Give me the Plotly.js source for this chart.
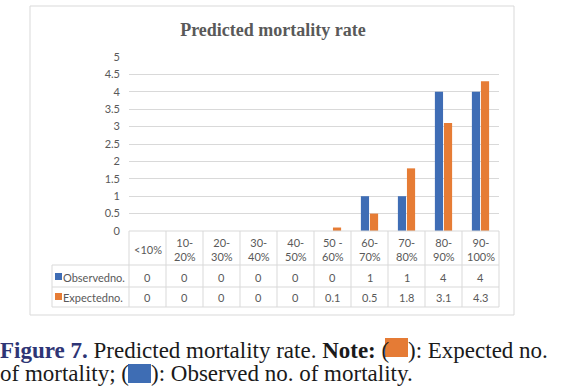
<!DOCTYPE html>
<html>
<head>
<meta charset="utf-8">
<script src="https://cdn.plot.ly/plotly-3.0.1.min.js"></script>
<style>html,body{margin:0;padding:0;background:#fff;}#chart{width:569px;height:391px;}</style>
</head>
<body>
<div id="chart"></div>
<script>
// ---- data ----
const categories = ['<10%', '10-20%', '20-30%', '30-40%', '40-50%', '50 -60%', '60-70%', '70-80%', '80-90%', '90-100%'];
const headerLabels = ['<10%', '10-<br>20%', '20-<br>30%', '30-<br>40%', '40-<br>50%', '50 -<br>60%', '60-<br>70%', '70-<br>80%', '80-<br>90%', '90-<br>100%'];
const observed = [0, 0, 0, 0, 0, 0, 1, 1, 4, 4];
const expected = [0, 0, 0, 0, 0, 0.1, 0.5, 1.8, 3.1, 4.3];
const seriesNames = ['Observedno.', 'Expectedno.'];
const yTicks = [0, 0.5, 1, 1.5, 2, 2.5, 3, 3.5, 4, 4.5, 5];

// ---- styling ----
const BLUE = '#3f6db5';
const ORANGE = '#e67c35';
const GRID = '#d9d9d9';
const TXT = '#595959';
const FONT = 'Lato, "Open Sans", sans-serif';

// pixel -> paper helpers (plot area: x 129..499, y 57..231)
const L = 129, R = 70, T = 57, B = 160, W = 569, H = 391;
const PW = W - L - R, PH = H - T - B;
const X = px => (px - L) / PW;
const Y = py => (H - B - py) / PH;

const traces = [
  {type: 'bar', x: categories, y: observed, name: seriesNames[0], marker: {color: BLUE}, hoverinfo: 'none'},
  {type: 'bar', x: categories, y: expected, name: seriesNames[1], marker: {color: ORANGE}, hoverinfo: 'none'}
];

const shapes = [];
const annotations = [];
const line = {color: GRID, width: 1};

// outer frame
shapes.push({type: 'rect', xref: 'paper', yref: 'paper', x0: X(30), x1: X(514), y0: Y(6), y1: Y(315), line: line, fillcolor: 'rgba(0,0,0,0)', layer: 'below'});
// table top line (axis line)
shapes.push({type: 'line', xref: 'paper', yref: 'paper', x0: 0, x1: 1, y0: 0, y1: 0, line: line});
// table horizontal lines
[265, 287, 307].forEach(py => {
  shapes.push({type: 'line', xref: 'paper', yref: 'paper', x0: X(52), x1: 1, y0: Y(py), y1: Y(py), line: line});
});
// legend column left line
shapes.push({type: 'line', xref: 'paper', yref: 'paper', x0: X(52), x1: X(52), y0: Y(265), y1: Y(307), line: line});
// vertical category boundaries
for (let i = 0; i <= categories.length; i++) {
  const xp = i / categories.length;
  shapes.push({type: 'line', xref: 'paper', yref: 'paper', x0: xp, x1: xp, y0: 0, y1: Y(307), line: line});
}
// legend keys
shapes.push({type: 'rect', xref: 'paper', yref: 'paper', x0: X(55), x1: X(62), y0: Y(273), y1: Y(280), line: {width: 0}, fillcolor: BLUE});
shapes.push({type: 'rect', xref: 'paper', yref: 'paper', x0: X(55), x1: X(62), y0: Y(293), y1: Y(300), line: {width: 0}, fillcolor: ORANGE});

const cellFont = {family: FONT, size: 11, color: TXT};
categories.forEach((c, i) => {
  annotations.push({xref: 'x', yref: 'paper', x: c, y: Y(249.5), text: headerLabels[i], showarrow: false, font: cellFont, xanchor: 'center', yanchor: 'middle'});
  annotations.push({xref: 'x', yref: 'paper', x: c, y: Y(277), text: String(observed[i]), showarrow: false, font: cellFont, xanchor: 'center', yanchor: 'middle'});
  annotations.push({xref: 'x', yref: 'paper', x: c, y: Y(297), text: String(expected[i]), showarrow: false, font: cellFont, xanchor: 'center', yanchor: 'middle'});
});
annotations.push({xref: 'paper', yref: 'paper', x: X(61), y: Y(277), text: seriesNames[0], showarrow: false, font: cellFont, xanchor: 'left', yanchor: 'middle'});
annotations.push({xref: 'paper', yref: 'paper', x: X(61), y: Y(297), text: seriesNames[1], showarrow: false, font: cellFont, xanchor: 'left', yanchor: 'middle'});

// caption
const capFont = {family: '"Liberation Serif", "Times New Roman", serif', size: 23, color: '#1a1a1a'};
annotations.push({xref: 'paper', yref: 'paper', x: X(-2), y: Y(350), xanchor: 'left', yanchor: 'middle', showarrow: false, font: capFont,
  text: '<b><span style="color:#2e3575">Figure 7.</span></b> Predicted mortality rate. <b>Note:</b> ('});
annotations.push({xref: 'paper', yref: 'paper', x: X(406), y: Y(350), xanchor: 'left', yanchor: 'middle', showarrow: false, font: capFont,
  text: '): Expected no.'});
annotations.push({xref: 'paper', yref: 'paper', x: X(-2), y: Y(373), xanchor: 'left', yanchor: 'middle', showarrow: false, font: capFont,
  text: 'of mortality; ('});
annotations.push({xref: 'paper', yref: 'paper', x: X(149), y: Y(373), xanchor: 'left', yanchor: 'middle', showarrow: false, font: capFont,
  text: '): Observed no. of mortality.'});
shapes.push({type: 'rect', xref: 'paper', yref: 'paper', x0: X(385), x1: X(408), y0: Y(338), y1: Y(357), line: {width: 0}, fillcolor: '#e57b35'});
shapes.push({type: 'rect', xref: 'paper', yref: 'paper', x0: X(128), x1: X(151), y0: Y(364), y1: Y(383), line: {width: 0}, fillcolor: '#3e6db4'});

const layout = {
  width: W, height: H,
  margin: {l: L, r: R, t: T, b: B, pad: 0},
  paper_bgcolor: '#ffffff', plot_bgcolor: '#ffffff',
  showlegend: false,
  barmode: 'group', bargap: 0.51, bargroupgap: 0.1,
  title: {text: '<b>Predicted mortality rate</b>', font: {family: '"Liberation Serif", serif', size: 18, color: TXT},
          x: 273 / W, xanchor: 'center', y: 1 - 30 / H, yanchor: 'middle'},
  xaxis: {type: 'category', range: [-0.5, categories.length - 0.5], showticklabels: false, showgrid: false, zeroline: false, showline: false, fixedrange: true},
  yaxis: {range: [0, 5], tickvals: yTicks, ticktext: yTicks.map(String), showgrid: true, gridcolor: GRID, gridwidth: 1, zeroline: false, showline: false,
          ticks: '', ticklabelstandoff: 8, tickfont: {family: FONT, size: 11, color: TXT}, fixedrange: true},
  shapes: shapes,
  annotations: annotations
};

Plotly.newPlot('chart', traces, layout, {displayModeBar: false, staticPlot: true});
</script>
</body>
</html>
